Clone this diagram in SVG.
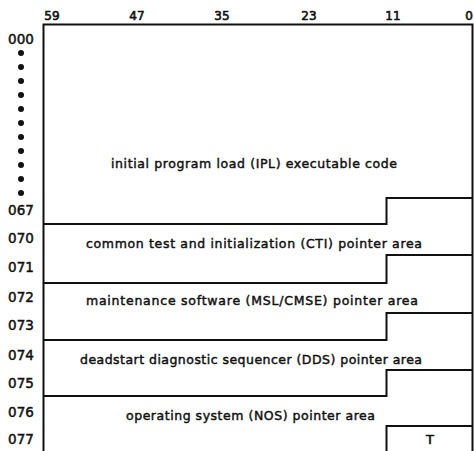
<svg xmlns="http://www.w3.org/2000/svg" width="474" height="451" viewBox="0 0 474 451">
<style>
.ln{fill:none;stroke:#111;stroke-width:2;stroke-linejoin:miter}
.hd{font-family:"DejaVu Sans",Verdana,sans-serif;font-size:12px;fill:#111;stroke:#111;stroke-width:0.6;text-anchor:middle}
.rl{font-family:"DejaVu Sans",Verdana,sans-serif;font-size:13.5px;fill:#111;stroke:#111;stroke-width:0.5;text-anchor:middle}
.tx{font-family:"DejaVu Sans",Verdana,sans-serif;font-size:12.5px;fill:#111;stroke:#111;stroke-width:0.45}
.dot{fill:#111}
</style>
<rect width="474" height="451" fill="#fff"/>
<g id="bit-header">
<text class="hd" x="52" y="20">59</text>
<text class="hd" x="137" y="20">47</text>
<text class="hd" x="222" y="20">35</text>
<text class="hd" x="309" y="20">23</text>
<text class="hd" x="393" y="20">11</text>
<text class="hd" x="469" y="20">0</text>
</g>
<g id="address-labels">
<text class="rl" x="21" y="44">000</text>
<circle class="dot" cx="21" cy="53" r="3"/>
<circle class="dot" cx="21" cy="67" r="3"/>
<circle class="dot" cx="21" cy="81" r="3"/>
<circle class="dot" cx="21" cy="95" r="3"/>
<circle class="dot" cx="21" cy="109" r="3"/>
<circle class="dot" cx="21" cy="123" r="3"/>
<circle class="dot" cx="21" cy="137" r="3"/>
<circle class="dot" cx="21" cy="151" r="3"/>
<circle class="dot" cx="21" cy="165" r="3"/>
<circle class="dot" cx="21" cy="179" r="3"/>
<circle class="dot" cx="21" cy="193" r="3"/>
<text class="rl" x="21" y="215">067</text>
<text class="rl" x="21" y="243">070</text>
<text class="rl" x="21" y="272">071</text>
<text class="rl" x="21" y="302">072</text>
<text class="rl" x="21" y="330">073</text>
<text class="rl" x="21" y="360">074</text>
<text class="rl" x="21" y="388">075</text>
<text class="rl" x="21" y="417">076</text>
<text class="rl" x="21" y="444">077</text>
</g>
<g id="connectors">
<path class="ln" d="M43.5 451 V24.5 H472.5 V451"/>
<path class="ln" d="M472.5 198 H386.5 V224 H43.5"/>
<path class="ln" d="M472.5 255 H386.5 V283 H43.5"/>
<path class="ln" d="M472.5 313 H386.5 V340 H43.5"/>
<path class="ln" d="M472.5 370 H386.5 V396 H43.5"/>
<path class="ln" d="M472.5 426 H386.5 V451"/>
</g>
<g id="ipl">
<text class="tx" x="111" y="168" textLength="286" lengthAdjust="spacing">initial program load (IPL) executable code</text>
</g>
<g id="cti">
<text class="tx" x="86" y="248" textLength="336" lengthAdjust="spacing">common test and initialization (CTI) pointer area</text>
</g>
<g id="msl">
<text class="tx" x="86" y="305" textLength="332" lengthAdjust="spacing">maintenance software (MSL/CMSE) pointer area</text>
</g>
<g id="dds">
<text class="tx" x="80" y="364" textLength="342" lengthAdjust="spacing">deadstart diagnostic sequencer (DDS) pointer area</text>
</g>
<g id="nos">
<text class="tx" x="126" y="420" textLength="249" lengthAdjust="spacing">operating system (NOS) pointer area</text>
</g>
<g id="t-field">
<text class="hd" x="430" y="444" style="font-size:13px">T</text>
</g>
</svg>
